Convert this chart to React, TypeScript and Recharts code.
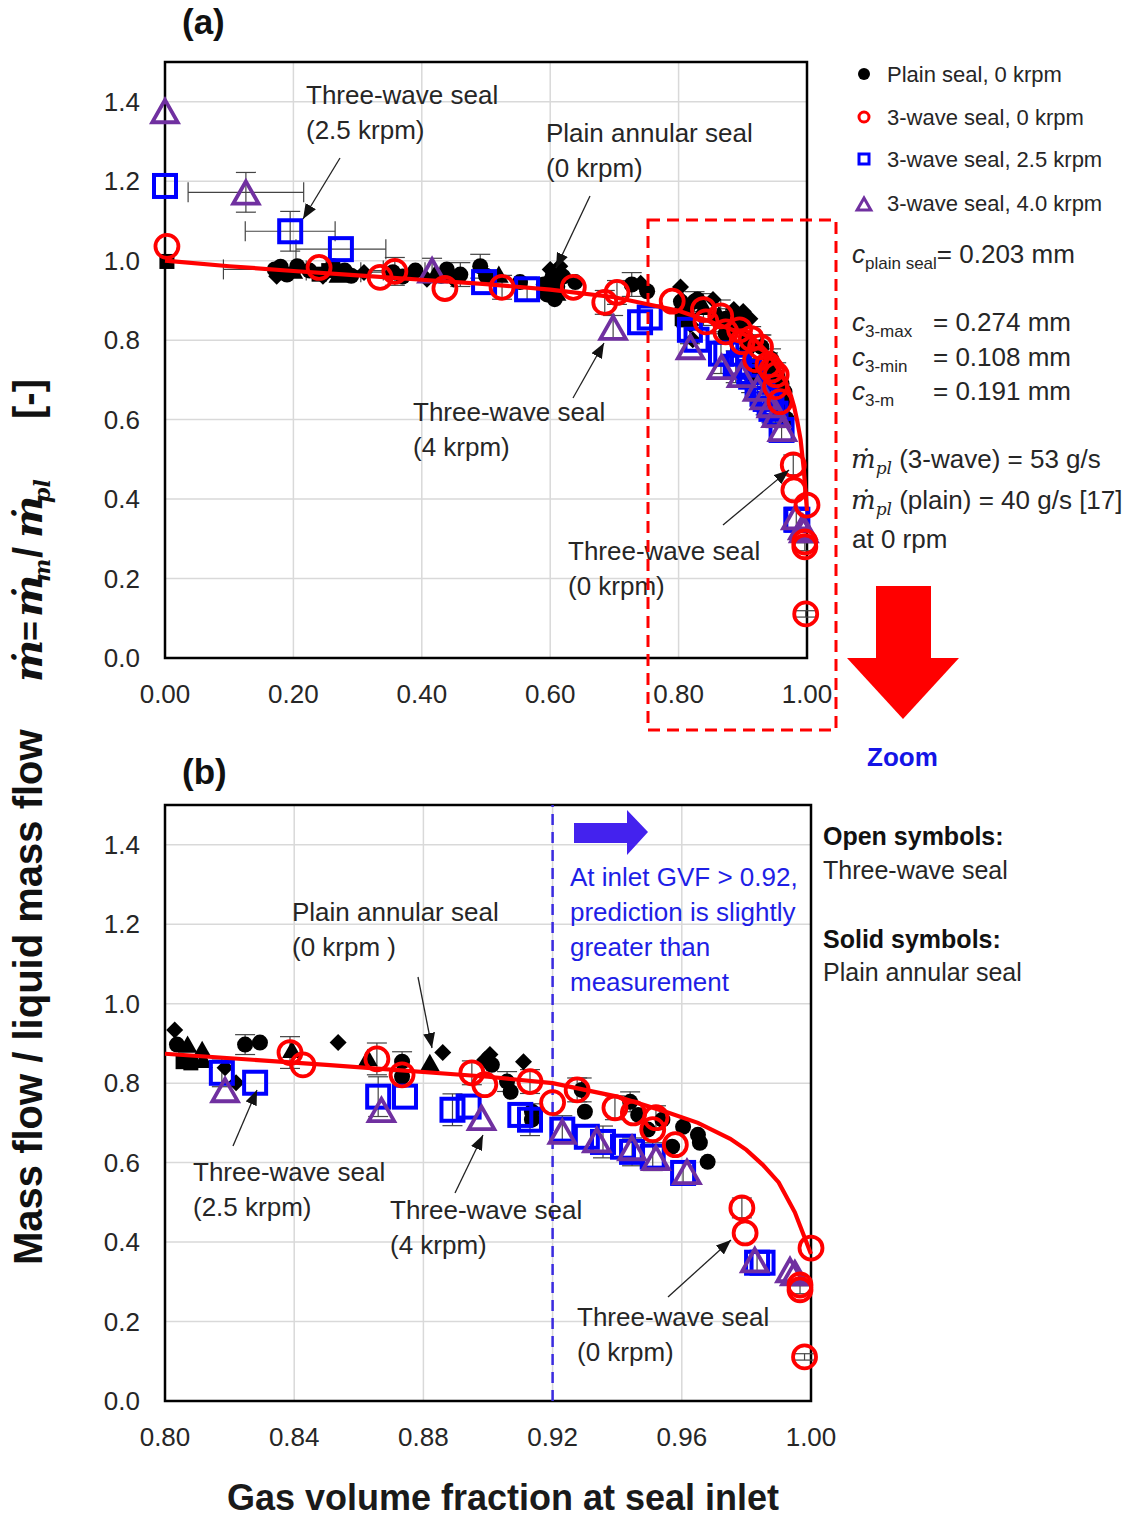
import React from 'react'
import {
  CartesianGrid,
  ErrorBar,
  ReferenceArea,
  ReferenceLine,
  Scatter,
  ScatterChart,
  XAxis,
  YAxis,
} from 'recharts'

type Pt = { x: number; y: number; ex?: number; ey?: number }

const FONT = '"Liberation Sans", Arial, Helvetica, sans-serif'
const SERIF = '"DejaVu Serif", "Liberation Serif", serif'
const RED = '#ff0000'
const BLUE = '#0000ff'
const PURPLE = '#7030a0'
const INK = '#262626'

const topXTicks = [0, 0.2, 0.4, 0.6, 0.8, 1.0]
const zoomXTicks = [0.8, 0.84, 0.88, 0.92, 0.96, 1.0]
const yTicks = [0, 0.2, 0.4, 0.6, 0.8, 1.0, 1.2, 1.4]

// plain annular seal, 0 krpm (solid symbols)
const plainCircles: Pt[] = [
  { x: 0.171, y: 0.978, ex: 0.08 }, { x: 0.18, y: 0.985 }, { x: 0.19, y: 0.965 }, { x: 0.206, y: 0.986 },
  { x: 0.225, y: 0.975 }, { x: 0.262, y: 0.986 }, { x: 0.28, y: 0.975, ex: 0.06 }, { x: 0.29, y: 0.962 },
  { x: 0.355, y: 0.971, ex: 0.05 }, { x: 0.37, y: 0.96 }, { x: 0.39, y: 0.975 }, { x: 0.43, y: 0.962 },
  { x: 0.439, y: 0.978 }, { x: 0.46, y: 0.965, ey: 0.03 }, { x: 0.491, y: 0.986, ey: 0.03 },
  { x: 0.5, y: 0.962 }, { x: 0.553, y: 0.946 }, { x: 0.59, y: 0.94 }, { x: 0.604, y: 0.961 },
  { x: 0.611, y: 0.935 }, { x: 0.607, y: 0.903 }, { x: 0.62, y: 0.96 }, { x: 0.595, y: 0.915 },
  { x: 0.639, y: 0.946 }, { x: 0.727, y: 0.94, ey: 0.03 }, { x: 0.751, y: 0.923 },
  { x: 0.8037, y: 0.897 }, { x: 0.8248, y: 0.897, ey: 0.025 }, { x: 0.8294, y: 0.902 },
  { x: 0.8734, y: 0.854, ey: 0.025 }, { x: 0.8734, y: 0.816 }, { x: 0.9012, y: 0.846 },
  { x: 0.9059, y: 0.804, ey: 0.025 }, { x: 0.907, y: 0.778 }, { x: 0.9136, y: 0.728 },
  { x: 0.9136, y: 0.708 }, { x: 0.929, y: 0.783, ey: 0.03 }, { x: 0.93, y: 0.728 },
  { x: 0.944, y: 0.753, ey: 0.025 }, { x: 0.9465, y: 0.72 }, { x: 0.9495, y: 0.683 },
  { x: 0.954, y: 0.708 }, { x: 0.957, y: 0.64 }, { x: 0.9604, y: 0.69 }, { x: 0.965, y: 0.67 },
  { x: 0.9656, y: 0.65 }, { x: 0.968, y: 0.602 },
]
const plainDiamonds: Pt[] = [
  { x: 0.174, y: 0.961 }, { x: 0.246, y: 0.961 }, { x: 0.31, y: 0.97 }, { x: 0.408, y: 0.953 },
  { x: 0.449, y: 0.953 }, { x: 0.6, y: 0.978 }, { x: 0.615, y: 0.986 }, { x: 0.741, y: 0.943 },
  { x: 0.803, y: 0.934 }, { x: 0.8186, y: 0.839 }, { x: 0.822, y: 0.801 }, { x: 0.8536, y: 0.902 },
  { x: 0.886, y: 0.877 }, { x: 0.899, y: 0.859 }, { x: 0.9006, y: 0.872 }, { x: 0.911, y: 0.854 },
]
const plainTriangles: Pt[] = [
  { x: 0.2, y: 0.975 }, { x: 0.27, y: 0.965 }, { x: 0.42, y: 0.965 }, { x: 0.52, y: 0.965 },
  { x: 0.597, y: 0.955 }, { x: 0.61, y: 0.92 },
  { x: 0.807, y: 0.897 }, { x: 0.8115, y: 0.884 }, { x: 0.8118, y: 0.859 }, { x: 0.8393, y: 0.884 },
  { x: 0.8628, y: 0.864 }, { x: 0.882, y: 0.851 },
]
const plainSquares: Pt[] = [
  { x: 0.003, y: 0.998 }, { x: 0.24, y: 0.966 }, { x: 0.255, y: 0.975 },
  { x: 0.8056, y: 0.854 }, { x: 0.808, y: 0.851 },
]

// three-wave seal, 0 krpm
const wave0: Pt[] = [
  { x: 0.003, y: 1.036 }, { x: 0.24, y: 0.983 }, { x: 0.335, y: 0.958 }, { x: 0.358, y: 0.973, ey: 0.035 },
  { x: 0.436, y: 0.93 }, { x: 0.525, y: 0.933, ey: 0.03 }, { x: 0.636, y: 0.933 },
  { x: 0.685, y: 0.895, ey: 0.03 }, { x: 0.704, y: 0.92, ey: 0.03 }, { x: 0.79, y: 0.898 },
  { x: 0.8387, y: 0.877, ey: 0.04 }, { x: 0.8427, y: 0.846 }, { x: 0.8656, y: 0.861, ey: 0.04 },
  { x: 0.8734, y: 0.821 }, { x: 0.895, y: 0.826, ey: 0.03 }, { x: 0.899, y: 0.796 },
  { x: 0.913, y: 0.804, ey: 0.03 }, { x: 0.92, y: 0.751 }, { x: 0.9276, y: 0.783, ey: 0.03 },
  { x: 0.9393, y: 0.738, ey: 0.03 }, { x: 0.945, y: 0.725 }, { x: 0.952, y: 0.713, ey: 0.03 },
  { x: 0.951, y: 0.683 }, { x: 0.958, y: 0.645 }, { x: 0.9786, y: 0.486, ey: 0.025 },
  { x: 0.9796, y: 0.423 }, { x: 1.0, y: 0.385 }, { x: 0.9966, y: 0.292 },
  { x: 0.9966, y: 0.28, ey: 0.01 }, { x: 0.998, y: 0.111, ey: 0.008 },
]

// three-wave seal, 2.5 krpm
const wave25: Pt[] = [
  { x: 0.0, y: 1.188 }, { x: 0.195, y: 1.074, ex: 0.07, ey: 0.05 }, { x: 0.274, y: 1.029, ex: 0.07 },
  { x: 0.497, y: 0.946 }, { x: 0.564, y: 0.928, ey: 0.03 }, { x: 0.74, y: 0.845 }, { x: 0.755, y: 0.857 },
  { x: 0.8176, y: 0.826, ey: 0.035 }, { x: 0.8279, y: 0.801 }, { x: 0.866, y: 0.766, ey: 0.05 },
  { x: 0.8743, y: 0.766 }, { x: 0.889, y: 0.733, ey: 0.04 }, { x: 0.894, y: 0.741 },
  { x: 0.91, y: 0.72 }, { x: 0.913, y: 0.708, ey: 0.04 }, { x: 0.923, y: 0.683, ey: 0.035 },
  { x: 0.9306, y: 0.665 }, { x: 0.9356, y: 0.652, ey: 0.04 }, { x: 0.9418, y: 0.64 },
  { x: 0.9446, y: 0.627, ey: 0.035 }, { x: 0.951, y: 0.615, ey: 0.035 }, { x: 0.9604, y: 0.574, ey: 0.03 },
  { x: 0.9833, y: 0.348, ey: 0.025 }, { x: 0.985, y: 0.348 },
]

// three-wave seal, 4.0 krpm
const wave40: Pt[] = [
  { x: 0.0, y: 1.377 }, { x: 0.126, y: 1.172, ex: 0.09, ey: 0.05 }, { x: 0.416, y: 0.976, ey: 0.03 },
  { x: 0.698, y: 0.832, ey: 0.03 },
  { x: 0.8186, y: 0.783 }, { x: 0.867, y: 0.733 }, { x: 0.898, y: 0.713 }, { x: 0.923, y: 0.678 },
  { x: 0.9337, y: 0.657 }, { x: 0.9446, y: 0.637 }, { x: 0.952, y: 0.612 }, { x: 0.9616, y: 0.577 },
  { x: 0.9826, y: 0.355 }, { x: 0.9935, y: 0.33 }, { x: 0.995, y: 0.322 },
]

// model prediction, three-wave seal
const prediction: Pt[] = [
  { x: 0, y: 1.0 }, { x: 0.1, y: 0.986 }, { x: 0.2, y: 0.974 }, { x: 0.3, y: 0.963 },
  { x: 0.4, y: 0.952 }, { x: 0.5, y: 0.941 }, { x: 0.6, y: 0.927 }, { x: 0.7, y: 0.908 },
  { x: 0.8, y: 0.874 }, { x: 0.85, y: 0.846 }, { x: 0.9, y: 0.816 }, { x: 0.92, y: 0.8 },
  { x: 0.94, y: 0.766 }, { x: 0.955, y: 0.728 }, { x: 0.965, y: 0.7 }, { x: 0.975, y: 0.66 },
  { x: 0.98, y: 0.632 }, { x: 0.985, y: 0.595 }, { x: 0.99, y: 0.55 }, { x: 0.995, y: 0.475 },
  { x: 1.0, y: 0.37 },
]

const triPath = (cx: number, cy: number, s: number) =>
  `M${cx},${cy - s} L${cx + s * 0.98},${cy + s * 0.72} L${cx - s * 0.98},${cy + s * 0.72} Z`

const openCircle = (p: any) => (
  <circle cx={p.cx} cy={p.cy} r={11.5} fill="none" stroke={RED} strokeWidth={3.8} />
)
const openSquare = (p: any) => (
  <rect x={p.cx - 11} y={p.cy - 11} width={22} height={22} fill="none" stroke={BLUE} strokeWidth={4} />
)
const openTriangle = (p: any) => (
  <path d={triPath(p.cx, p.cy + 2, 13)} fill="none" stroke={PURPLE} strokeWidth={3.8} />
)
const solidCircle = (p: any) => <circle cx={p.cx} cy={p.cy} r={8} fill="#000" />
const solidDiamond = (p: any) => (
  <path d={`M${p.cx},${p.cy - 8.5} L${p.cx + 8.5},${p.cy} L${p.cx},${p.cy + 8.5} L${p.cx - 8.5},${p.cy} Z`} fill="#000" />
)
const solidTriangle = (p: any) => <path d={triPath(p.cx, p.cy + 1, 10)} fill="#000" />
const solidSquare = (p: any) => <rect x={p.cx - 7.5} y={p.cy - 7.5} width={15} height={15} fill="#000" />
const noMark = () => <g />

const tickStyle = { fontSize: 26, fill: INK, fontFamily: FONT }

function errBars() {
  return [
    <ErrorBar key="ey" dataKey="ey" direction="y" width={10} stroke="#444" strokeWidth={1.2} />,
    <ErrorBar key="ex" dataKey="ex" direction="x" width={10} stroke="#444" strokeWidth={1.2} />,
  ]
}

function Panel({
  xMin,
  xTicks,
  width,
  height,
  margin,
  divider,
}: {
  xMin: number
  xTicks: number[]
  width: number
  height: number
  margin: { top: number; right: number; bottom: number; left: number }
  divider?: number
}) {
  const keep = (d: Pt[]) => d.filter((p) => p.x >= xMin - 1e-9)
  return (
    <ScatterChart width={width} height={height} margin={margin}>
      <CartesianGrid stroke="#d9d9d9" strokeWidth={1.5} />
      <XAxis
        type="number"
        dataKey="x"
        domain={[xMin, 1]}
        ticks={xTicks}
        interval={0}
        tickFormatter={(v: number) => v.toFixed(2)}
        tick={tickStyle}
        tickLine={false}
        axisLine={false}
        tickMargin={21}
        height={40}
      />
      <YAxis
        type="number"
        dataKey="y"
        domain={[0, 1.5]}
        ticks={yTicks}
        interval={0}
        tickFormatter={(v: number) => v.toFixed(1)}
        tick={tickStyle}
        tickLine={false}
        axisLine={false}
        tickMargin={19}
        width={60}
      />
      <ReferenceArea x1={xMin} x2={1} y1={0} y2={1.5} fill="none" fillOpacity={0} stroke="#000" strokeWidth={2.5} />
      {divider !== undefined && (
        <ReferenceLine x={divider} stroke="#3a2be0" strokeWidth={2.5} strokeDasharray="11 7" />
      )}
      <Scatter data={keep(plainSquares)} shape={solidSquare} isAnimationActive={false}>{errBars()}</Scatter>
      <Scatter data={keep(plainTriangles)} shape={solidTriangle} isAnimationActive={false}>{errBars()}</Scatter>
      <Scatter data={keep(plainDiamonds)} shape={solidDiamond} isAnimationActive={false}>{errBars()}</Scatter>
      <Scatter data={keep(plainCircles)} shape={solidCircle} isAnimationActive={false}>{errBars()}</Scatter>
      <Scatter data={keep(wave25)} shape={openSquare} isAnimationActive={false}>{errBars()}</Scatter>
      <Scatter data={keep(wave40)} shape={openTriangle} isAnimationActive={false}>{errBars()}</Scatter>
      <Scatter
        data={keep(prediction)}
        shape={noMark}
        fill={RED}
        line={{ stroke: RED, strokeWidth: 4.2 }}
        isAnimationActive={false}
      />
      <Scatter data={keep(wave0)} shape={openCircle} isAnimationActive={false}>{errBars()}</Scatter>
    </ScatterChart>
  )
}

function Arrow({ x1, y1, x2, y2 }: { x1: number; y1: number; x2: number; y2: number }) {
  return <line x1={x1} y1={y1} x2={x2} y2={y2} stroke="#222" strokeWidth={1.3} markerEnd="url(#ah)" />
}

function Note({ x, y, lines, color = INK, size = 26, weight = 'normal' }: {
  x: number; y: number; lines: string[]; color?: string; size?: number; weight?: string
}) {
  return (
    <text x={x} y={y} fontSize={size} fill={color} fontWeight={weight} fontFamily={FONT}>
      {lines.map((l, i) => (
        <tspan key={i} x={x} dy={i === 0 ? 0 : 35}>{l}</tspan>
      ))}
    </text>
  )
}

function Overlay() {
  return (
    <svg
      width={1127}
      height={1517}
      style={{ position: 'absolute', left: 0, top: 0, pointerEvents: 'none' }}
      fontFamily={FONT}
    >
      <defs>
        <marker id="ah" viewBox="0 0 10 10" refX="10" refY="5" markerWidth="15" markerHeight="12"
          markerUnits="userSpaceOnUse" orient="auto" preserveAspectRatio="none">
          <path d="M0,0 L10,5 L0,10 z" fill="#111" />
        </marker>
      </defs>

      <text x={182} y={34} fontSize={35} fontWeight="bold" fill="#111">(a)</text>
      <text x={182} y={784} fontSize={35} fontWeight="bold" fill="#111">(b)</text>

      {/* panel (a) notes */}
      <Note x={306} y={104} lines={['Three-wave seal', '(2.5 krpm)']} />
      <Arrow x1={340} y1={158} x2={303} y2={219} />
      <Note x={546} y={142} lines={['Plain annular seal', '(0 krpm)']} />
      <Arrow x1={590} y1={196} x2={556} y2={268} />
      <Note x={413} y={421} lines={['Three-wave seal', '(4 krpm)']} />
      <Arrow x1={573} y1={398} x2={604} y2={343} />
      <Note x={568} y={560} lines={['Three-wave seal', '(0 krpm)']} />
      <Arrow x1={723} y1={525} x2={789} y2={470} />

      <rect x={648} y={220} width={188} height={510} fill="none" stroke={RED} strokeWidth={3} strokeDasharray="12 7" />
      <rect x={876} y={586} width={55} height={73} fill={RED} />
      <path d="M847,658 L959,658 L903,719 Z" fill={RED} />
      <text x={867} y={766} fontSize={26} fontWeight="bold" fill="#1414e6">Zoom</text>

      {/* legend */}
      <circle cx={864} cy={74} r={6} fill="#000" />
      <circle cx={864} cy={117} r={5} fill="none" stroke={RED} strokeWidth={3} />
      <rect x={859} y={154} width={10} height={10} fill="none" stroke={BLUE} strokeWidth={3} />
      <path d={triPath(864, 205, 7)} fill="none" stroke={PURPLE} strokeWidth={3} />
      <g fontSize={22} fill={INK}>
        <text x={887} y={82}>Plain seal, 0 krpm</text>
        <text x={887} y={125}>3-wave seal, 0 krpm</text>
        <text x={887} y={167}>3-wave seal, 2.5 krpm</text>
        <text x={887} y={211}>3-wave seal, 4.0 krpm</text>
      </g>

      <g fontSize={26} fill={INK}>
        <text x={852} y={263}>
          <tspan fontStyle="italic">c</tspan>
          <tspan fontSize={17} dy={6}>plain seal</tspan>
          <tspan dy={-6}>= 0.203 mm</tspan>
        </text>
        <text x={852} y={331}>
          <tspan fontStyle="italic">c</tspan>
          <tspan fontSize={17} dy={6}>3-max</tspan>
        </text>
        <text x={933} y={331}>= 0.274 mm</text>
        <text x={852} y={366}>
          <tspan fontStyle="italic">c</tspan>
          <tspan fontSize={17} dy={6}>3-min</tspan>
        </text>
        <text x={933} y={366}>= 0.108 mm</text>
        <text x={852} y={400}>
          <tspan fontStyle="italic">c</tspan>
          <tspan fontSize={17} dy={6}>3-m</tspan>
        </text>
        <text x={933} y={400}>= 0.191 mm</text>

        <text x={851} y={468}>
          <tspan fontFamily={SERIF} fontStyle="italic" fontSize={26}>ṁ</tspan>
          <tspan fontFamily={SERIF} fontStyle="italic" fontSize={17} dy={6}>pl</tspan>
          <tspan dy={-6}> (3-wave) = 53 g/s</tspan>
        </text>
        <text x={851} y={509}>
          <tspan fontFamily={SERIF} fontStyle="italic" fontSize={26}>ṁ</tspan>
          <tspan fontFamily={SERIF} fontStyle="italic" fontSize={17} dy={6}>pl</tspan>
          <tspan dy={-6}> (plain) = 40 g/s [17]</tspan>
        </text>
        <text x={852} y={548}>at 0 rpm</text>
      </g>

      {/* panel (b) notes */}
      <path d="M574,823 L627,823 L627,810 L648,832 L627,855 L627,843 L574,843 Z" fill="#4422ee" />
      <Note x={570} y={886} lines={['At inlet GVF > 0.92,', 'prediction is slightly', 'greater than', 'measurement']} color="#1e1ee6" />
      <Note x={292} y={921} lines={['Plain annular seal', '(0 krpm )']} />
      <Arrow x1={418} y1={977} x2={432} y2={1048} />
      <Note x={193} y={1181} lines={['Three-wave seal', '(2.5 krpm)']} />
      <Arrow x1={233} y1={1146} x2={257} y2={1090} />
      <Note x={390} y={1219} lines={['Three-wave seal', '(4 krpm)']} />
      <Arrow x1={455} y1={1193} x2={483} y2={1135} />
      <Note x={577} y={1326} lines={['Three-wave seal', '(0 krpm)']} />
      <Arrow x1={668} y1={1297} x2={731} y2={1240} />

      <g fontSize={25} fill="#111">
        <text x={823} y={845} fontWeight="bold">Open symbols:</text>
        <text x={823} y={879} fill={INK}>Three-wave seal</text>
        <text x={823} y={948} fontWeight="bold">Solid symbols:</text>
        <text x={823} y={981} fill={INK}>Plain annular seal</text>
      </g>

      {/* axis titles */}
      <text transform="translate(42,1265) rotate(-90)" fontSize={40} fontWeight="bold" fill="#111">
        <tspan x={0}>Mass flow / liquid mass flow</tspan>
        <tspan x={583} fontFamily={SERIF} fontStyle="italic">ṁ</tspan>
        <tspan x={624} fontSize={34}>=</tspan>
        <tspan x={648} fontFamily={SERIF} fontStyle="italic">ṁ</tspan>
        <tspan x={683} dy={8} fontFamily={SERIF} fontStyle="italic" fontSize={22}>m</tspan>
        <tspan x={707} dy={-8}>/</tspan>
        <tspan x={727} fontFamily={SERIF} fontStyle="italic">ṁ</tspan>
        <tspan x={762} dy={8} fontFamily={SERIF} fontStyle="italic" fontSize={22}>pl</tspan>
        <tspan x={846} dy={-8}>[-]</tspan>
      </text>
      <text x={503} y={1510} textAnchor="middle" fontSize={36} fontWeight="bold" fill="#1a1a1a">
        Gas volume fraction at seal inlet
      </text>
    </svg>
  )
}

export default function App() {
  return (
    <div
      style={{
        position: 'absolute',
        left: 0,
        top: 0,
        width: 1127,
        height: 1517,
        background: '#fff',
        fontFamily: FONT,
        overflow: 'hidden',
      }}
    >
      <div style={{ position: 'absolute', left: 0, top: 0 }}>
        <Panel xMin={0} xTicks={topXTicks} width={860} height={720}
          margin={{ top: 62, right: 53, bottom: 22, left: 105 }} />
      </div>
      <div style={{ position: 'absolute', left: 0, top: 740 }}>
        <Panel xMin={0.8} xTicks={zoomXTicks} width={864} height={720}
          margin={{ top: 65, right: 53, bottom: 19, left: 105 }} divider={0.92} />
      </div>
      <Overlay />
    </div>
  )
}
